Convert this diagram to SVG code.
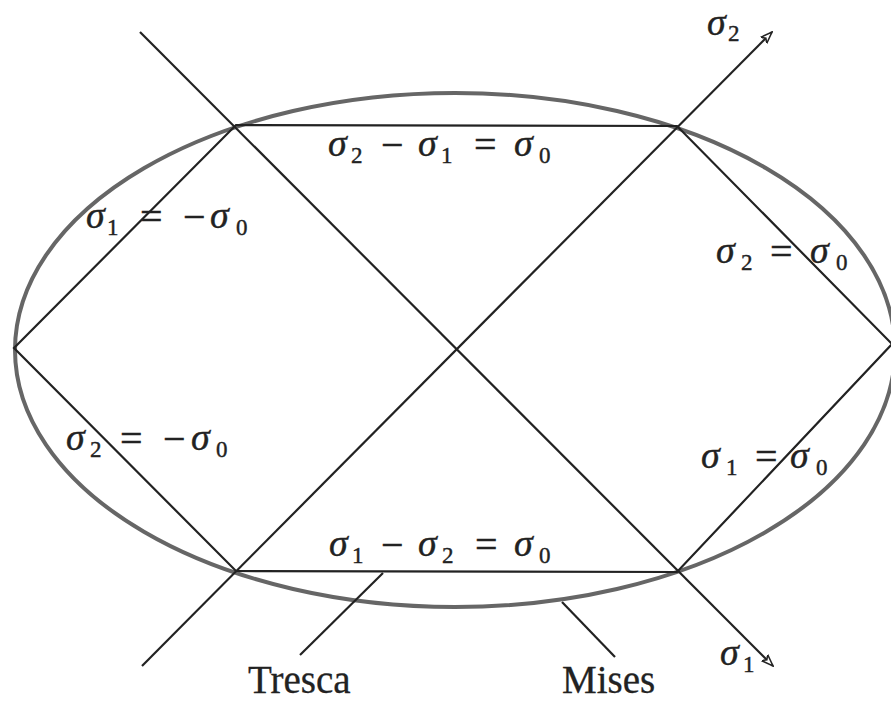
<svg xmlns="http://www.w3.org/2000/svg" width="891" height="702" viewBox="0 0 891 702">
<defs>
<marker id="arr" viewBox="0 0 12 10" refX="11" refY="5" markerWidth="13" markerHeight="11" markerUnits="userSpaceOnUse" orient="auto">
<path d="M0,1 L11,5 L0,9 L3,5 Z" fill="#fff" stroke="#222" stroke-width="1.4" stroke-linejoin="miter"/>
</marker>
</defs>
<style>
.ln{stroke:#222;stroke-width:2.2;fill:none}
.mises{stroke:#666;stroke-width:4;fill:none}
.m{font-family:"Liberation Serif",serif;font-size:34px;fill:#222;stroke:#222;stroke-width:0.4}
.i{font-style:italic;font-size:38px}
.s{font-size:23px}
.o{font-size:40px}
.w{font-family:"Liberation Serif",serif;font-size:39px;fill:#222;stroke:#222;stroke-width:0.3}
</style>
<rect width="891" height="702" fill="#fff"/>
<g id="mises">
<ellipse class="mises" cx="455" cy="350" rx="440" ry="257"/>
</g>
<g id="tresca">
<polygon class="ln" points="236,125 677,126 892,344 677,572 236,571 14,348"/>
</g>
<g id="connectors">
<line class="ln" x1="140" y1="32" x2="773" y2="666" marker-end="url(#arr)"/>
<line class="ln" x1="142" y1="666" x2="772" y2="32" marker-end="url(#arr)"/>
<line class="ln" x1="383" y1="573" x2="300" y2="655"/>
<line class="ln" x1="562" y1="602" x2="615" y2="657"/>
</g>
<g id="labels">
<text class="m" y="35"><tspan class="i" x="707">σ</tspan><tspan class="s" x="728" y="41">2</tspan></text>
<text class="m" y="665"><tspan class="i" x="720">σ</tspan><tspan class="s" x="743" y="672">1</tspan></text>
<text class="m" y="156"><tspan class="i" x="328">σ</tspan><tspan class="s" x="351" y="163">2</tspan><tspan class="o" x="381" y="158">−</tspan><tspan class="i" x="418" y="156">σ</tspan><tspan class="s" x="441" y="163">1</tspan><tspan class="o" x="474" y="158">=</tspan><tspan class="i" x="514" y="156">σ</tspan><tspan class="s" x="539" y="163">0</tspan></text>
<text class="m" y="556"><tspan class="i" x="329">σ</tspan><tspan class="s" x="352" y="563">1</tspan><tspan class="o" x="381" y="558">−</tspan><tspan class="i" x="418" y="556">σ</tspan><tspan class="s" x="442" y="563">2</tspan><tspan class="o" x="475" y="558">=</tspan><tspan class="i" x="514" y="556">σ</tspan><tspan class="s" x="539" y="563">0</tspan></text>
<text class="m" y="228"><tspan class="i" x="86">σ</tspan><tspan class="s" x="107" y="235">1</tspan><tspan class="o" x="140" y="230">=</tspan><tspan class="o" x="183" y="230">−</tspan><tspan class="i" x="210" y="228">σ</tspan><tspan class="s" x="236" y="235">0</tspan></text>
<text class="m" y="450"><tspan class="i" x="66">σ</tspan><tspan class="s" x="90" y="457">2</tspan><tspan class="o" x="120" y="452">=</tspan><tspan class="o" x="163" y="452">−</tspan><tspan class="i" x="191" y="450">σ</tspan><tspan class="s" x="216" y="457">0</tspan></text>
<text class="m" y="263"><tspan class="i" x="716">σ</tspan><tspan class="s" x="741" y="270">2</tspan><tspan class="o" x="770" y="265">=</tspan><tspan class="i" x="810" y="263">σ</tspan><tspan class="s" x="836" y="270">0</tspan></text>
<text class="m" y="468"><tspan class="i" x="701">σ</tspan><tspan class="s" x="726" y="475">1</tspan><tspan class="o" x="755" y="470">=</tspan><tspan class="i" x="790" y="468">σ</tspan><tspan class="s" x="816" y="475">0</tspan></text>
<text class="w" x="248" y="693">Tresca</text>
<text class="w" x="562" y="693">Mises</text>
</g>
</svg>
